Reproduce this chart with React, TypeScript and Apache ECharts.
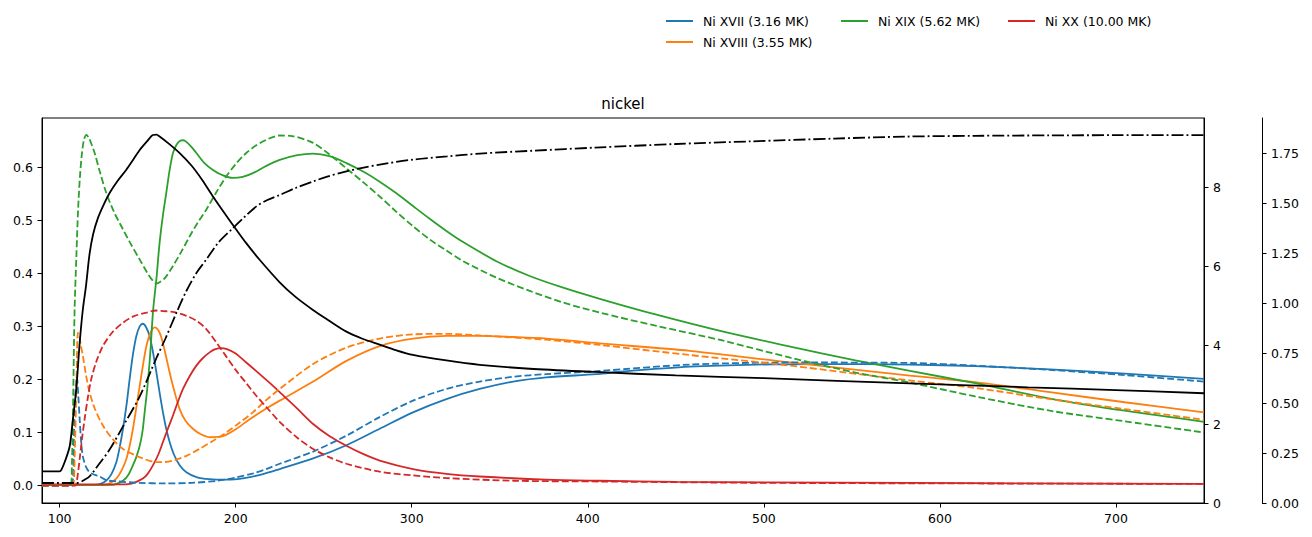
import { useEffect, useRef } from 'react';
import * as echarts from 'echarts';

type Pt = [number, number];

// Axis ticks
const timeTicks = [100, 200, 300, 400, 500, 600, 700];
const fractionTicks = [0, 0.1, 0.2, 0.3, 0.4, 0.5, 0.6];
const temperatureTicks = [0, 2, 4, 6, 8];
const densityTicks = [0, 0.25, 0.5, 0.75, 1.0, 1.25, 1.5, 1.75];

// Ion labels
const ionNames = ['Ni XVII (3.16 MK)', 'Ni XVIII (3.55 MK)', 'Ni XIX (5.62 MK)', 'Ni XX (10.00 MK)'];
const ionColors = ['#1f77b4', '#ff7f0e', '#2ca02c', '#d62728'];

// Non-equilibrium ion fractions (time, fraction)
const niXVII: Pt[] = [[90,0.001],[120,0.001],[124,0.004],[126.5,0.009],[129.5,0.022],[132.2,0.044],[134,0.07],[136,0.107],[138,0.152],[139.8,0.201],[141.7,0.248],[143.6,0.282],[145.5,0.300],[147.3,0.305],[149.2,0.298],[151.1,0.282],[153,0.252],[155,0.213],[156.8,0.175],[158.7,0.138],[160.5,0.108],[162.5,0.082],[165,0.058],[168.2,0.038],[172,0.025],[177.7,0.016],[185,0.012],[195,0.011],[205,0.014],[215,0.021],[225,0.031],[244,0.051],[262.9,0.076],[281.8,0.107],[300.7,0.138],[319.7,0.163],[338.6,0.182],[357.6,0.196],[376.5,0.204],[405,0.210],[420,0.215],[458,0.224],[496,0.228],[534,0.229],[583,0.228],[620,0.225],[662.5,0.219],[705,0.211],[750,0.201]];
const niXVIII: Pt[] = [[90,0.001],[125,0.001],[128,0.003],[132.2,0.013],[135,0.027],[137.9,0.050],[139.8,0.075],[141.6,0.106],[143.5,0.145],[145.5,0.188],[147.4,0.228],[149.3,0.263],[151.5,0.287],[154,0.298],[156,0.293],[157.8,0.279],[160,0.250],[162.5,0.213],[165,0.180],[168.2,0.144],[171.5,0.122],[175.7,0.107],[180,0.097],[185.2,0.091],[192.8,0.093],[200,0.106],[208,0.125],[217.4,0.145],[225,0.160],[244,0.196],[262.9,0.235],[281.8,0.263],[300.7,0.277],[319.7,0.282],[338.6,0.282],[357.6,0.280],[376.5,0.277],[406.8,0.268],[458,0.254],[515,0.232],[583,0.207],[620,0.195],[662.5,0.176],[705,0.157],[750,0.138]];
const niXIX: Pt[] = [[90,0.001],[130,0.001],[133,0.004],[136,0.009],[139,0.02],[141.6,0.038],[143.5,0.053],[145.5,0.075],[147,0.1],[148.3,0.138],[149.7,0.18],[151.1,0.232],[152,0.275],[153,0.326],[154,0.36],[155,0.39],[156.8,0.458],[158.7,0.51],[160.6,0.552],[162.5,0.595],[164.4,0.627],[166.5,0.643],[168.5,0.650],[170.1,0.651],[172,0.648],[175,0.638],[177.7,0.627],[182,0.609],[187.1,0.595],[192,0.586],[198.5,0.580],[204,0.582],[209.8,0.589],[217,0.602],[225,0.614],[235,0.623],[244,0.626],[253.4,0.621],[262.9,0.608],[272.4,0.592],[281.8,0.573],[291.3,0.551],[300.7,0.527],[310.2,0.503],[319.7,0.480],[329.2,0.459],[348.1,0.423],[367,0.395],[386,0.373],[406.8,0.352],[439,0.322],[477,0.290],[515,0.262],[552,0.236],[583,0.216],[620,0.193],[662.5,0.164],[705,0.141],[750,0.120]];
const niXX: Pt[] = [[90,0.002],[135,0.002],[140,0.003],[143,0.006],[147.3,0.013],[150,0.022],[153,0.038],[156,0.058],[158.7,0.082],[161.5,0.107],[164.4,0.132],[167,0.156],[170.1,0.182],[174,0.207],[177.7,0.226],[181,0.239],[185.2,0.251],[188.5,0.257],[191.8,0.259],[195,0.257],[200,0.249],[206,0.232],[213,0.212],[221.2,0.188],[225,0.176],[235,0.145],[244,0.116],[253.4,0.093],[262.9,0.075],[272,0.060],[281.8,0.047],[300.7,0.031],[319.7,0.022],[338.6,0.017],[376.5,0.011],[406.8,0.009],[450,0.007],[500,0.006],[583,0.005],[650,0.004],[750,0.003]];

// Equilibrium ion fractions (time, fraction)
const niXVIIeq: Pt[] = [[90,0],[106.5,0],[107.6,0.013],[108.5,0.14],[109.8,0.205],[110.6,0.17],[111.4,0.125],[112.3,0.08],[113.2,0.055],[115,0.035],[117,0.025],[120,0.02],[122.7,0.017],[126.5,0.01],[132,0.008],[145,0.005],[160,0.004],[175,0.005],[190,0.009],[200,0.015],[210,0.023],[217.4,0.031],[225,0.041],[244,0.064],[262.9,0.094],[281.8,0.129],[300.7,0.160],[319.7,0.182],[338.6,0.196],[357.6,0.205],[376.5,0.210],[406.8,0.216],[458,0.228],[515,0.232],[583,0.231],[620,0.226],[662.5,0.218],[705,0.208],[750,0.196]];
const niXVIIIeq: Pt[] = [[90,0],[107.5,0],[108.5,0.05],[109.5,0.18],[110.4,0.288],[111.2,0.283],[112,0.265],[113.2,0.245],[115,0.208],[117,0.176],[120,0.145],[124.6,0.113],[130,0.088],[136,0.069],[145,0.054],[153,0.045],[158,0.044],[164.4,0.047],[172,0.056],[179.5,0.069],[187,0.084],[194.7,0.100],[202,0.118],[209.8,0.138],[217,0.160],[225,0.182],[244,0.229],[262.9,0.260],[281.8,0.277],[300.7,0.285],[319.7,0.286],[338.6,0.283],[357.6,0.279],[376.5,0.275],[406.8,0.265],[458,0.246],[515,0.226],[583,0.198],[620,0.184],[662.5,0.163],[705,0.144],[750,0.124]];
const niXIXeq: Pt[] = [[90,0],[106.3,0],[107,0.04],[107.6,0.14],[108.5,0.33],[109.5,0.43],[110.5,0.52],[111.5,0.58],[112.5,0.62],[113.7,0.65],[115.2,0.661],[116.7,0.655],[118.3,0.642],[119.9,0.627],[123,0.59],[126.5,0.552],[131,0.515],[136,0.483],[140,0.458],[145.5,0.426],[150,0.400],[153,0.386],[155,0.381],[157.5,0.385],[160,0.392],[164.4,0.414],[169,0.440],[173.9,0.470],[178.5,0.496],[183.3,0.520],[189,0.553],[194.7,0.583],[200,0.606],[206,0.627],[211.5,0.641],[217.4,0.652],[222,0.658],[225,0.660],[232,0.659],[244,0.646],[253.4,0.624],[262.9,0.598],[272.4,0.572],[281.8,0.545],[291.3,0.516],[300.7,0.489],[310.2,0.464],[319.7,0.443],[329.2,0.423],[348.1,0.392],[367,0.367],[386,0.345],[406.8,0.326],[439,0.301],[477,0.273],[515,0.241],[552,0.213],[583,0.194],[620,0.168],[662.5,0.141],[705,0.121],[750,0.100]];
const niXXeq: Pt[] = [[90,0],[109,0],[109.5,0.003],[110.5,0.025],[111.4,0.05],[112.8,0.09],[114.2,0.125],[116,0.165],[118,0.201],[121,0.235],[124.6,0.263],[130,0.289],[136,0.307],[142,0.319],[149.3,0.326],[155,0.330],[158.7,0.329],[165,0.327],[172,0.320],[178,0.310],[183.3,0.295],[189,0.270],[194.7,0.243],[200,0.218],[206,0.193],[211,0.172],[217.4,0.148],[225,0.120],[235,0.090],[244,0.069],[253.4,0.053],[262.9,0.041],[281.8,0.026],[300.7,0.019],[319.7,0.014],[357.6,0.009],[406.8,0.0075],[500,0.005],[600,0.004],[750,0.003]];

// Plasma temperature in MK (time, T)
const temperature: Pt[] = [[90,0.80],[100,0.80],[101,0.84],[103,1.05],[105.7,1.43],[107.5,2.1],[109.5,2.9],[111.3,4.0],[113.2,4.9],[115,5.5],[117,6.3],[119,6.8],[121.8,7.22],[125,7.55],[128.4,7.85],[133,8.16],[137.9,8.44],[141.6,8.68],[145.5,8.94],[149.5,9.15],[153,9.32],[155,9.33],[156.8,9.28],[162,9.10],[168.2,8.86],[175,8.54],[181,8.18],[187.1,7.76],[193,7.38],[200.4,6.92],[206,6.58],[213.6,6.16],[225,5.59],[234,5.22],[243.9,4.89],[252,4.65],[262.9,4.34],[272,4.16],[281.8,4.01],[291,3.87],[300.7,3.75],[319.7,3.61],[338.6,3.50],[367,3.40],[404,3.32],[450,3.23],[500,3.16],[583,3.03],[650,2.93],[700,2.86],[750,2.78]];

// Electron density (time, n)
const density: Pt[] = [[90,0.10],[110,0.10],[113,0.11],[117,0.133],[122,0.19],[128.4,0.267],[136,0.383],[145.5,0.533],[155,0.725],[160,0.82],[166.3,0.95],[172,1.06],[177.7,1.15],[183.3,1.217],[190,1.30],[198.5,1.375],[205,1.43],[211.8,1.483],[218,1.515],[225,1.54],[234,1.575],[244,1.608],[252,1.632],[262.9,1.658],[272,1.676],[281.8,1.692],[300.7,1.717],[320,1.733],[338.6,1.747],[370,1.762],[404,1.777],[450,1.795],[492,1.808],[540,1.822],[580,1.832],[620,1.836],[662,1.838],[700,1.839],[750,1.839]];

const FONT = 'DejaVu Sans';
const LW = 1.8;
const DASHED = [6.9, 3];
const DASH_DOT = [12, 3, 1.9, 3];
// Legend handle: a thin horizontal bar inside a 27x14 box (corner specks keep the box size)
const LEGEND_HANDLE = 'path://M0,0L0.01,0L0,0.01Z M0,6.1L27,6.1L27,7.9L0,7.9Z M27,14L26.99,14L27,13.99Z';

function lineSeries(name: string, data: Pt[], color: string, dash: any, yAxisIndex: number) {
  return {
    type: 'line',
    name,
    data,
    yAxisIndex,
    symbol: 'none',
    showSymbol: false,
    smooth: 0.3,
    silent: true,
    lineStyle: { color, width: LW, type: dash },
    itemStyle: { color },
    emphasis: { disabled: true },
  };
}

function tickAxisStyle(ticks: number[], fmt: (v: number) => string) {
  return {
    axisLine: { show: true, onZero: false, lineStyle: { color: '#000', width: 1 } },
    axisTick: { show: true, length: 4.5, customValues: ticks, lineStyle: { color: '#000', width: 1 } },
    axisLabel: {
      show: true,
      customValues: ticks,
      margin: 9,
      fontSize: 12.5,
      fontFamily: FONT,
      color: '#000',
      formatter: (v: number) => fmt(v),
    },
    splitLine: { show: false },
  };
}

function legendBlock(names: string[], left: number) {
  return {
    data: names,
    orient: 'vertical',
    left,
    top: 14,
    padding: 0,
    icon: LEGEND_HANDLE,
    itemWidth: 27,
    itemHeight: 14,
    itemGap: 7,
    selectedMode: false,
    textStyle: { fontSize: 12.5, fontFamily: FONT, color: '#000', padding: [0, 0, 0, 5] },
  };
}

export default function App() {
  const ref = useRef<HTMLDivElement>(null);

  useEffect(() => {
    document.body.style.margin = '0';
    if (!ref.current) return;
    const chart = echarts.init(ref.current, null, { renderer: 'svg' });
    const option: any = {
      animation: false,
      backgroundColor: '#fff',
      textStyle: { fontFamily: FONT },
      grid: {
        left: 42,
        right: 108,
        top: 118,
        bottom: 34,
        show: true,
        borderColor: '#000',
        borderWidth: 1,
        containLabel: false,
        outerBoundsMode: 'none',
      },
      graphic: [
        {
          type: 'text',
          x: 623,
          y: 104,
          style: {
            text: 'nickel',
            fontSize: 15,
            fontFamily: FONT,
            fill: '#000',
            textAlign: 'center',
            textVerticalAlign: 'middle',
          },
        },
      ],
      legend: [
        legendBlock([ionNames[0], ionNames[1]], 666),
        legendBlock([ionNames[2]], 841),
        legendBlock([ionNames[3]], 1008),
      ],
      xAxis: {
        type: 'value',
        min: 90,
        max: 750,
        position: 'bottom',
        ...tickAxisStyle(timeTicks, (v) => String(v)),
      },
      yAxis: [
        {
          type: 'value',
          min: -0.033,
          max: 0.693,
          position: 'left',
          ...tickAxisStyle(fractionTicks, (v) => v.toFixed(1)),
        },
        {
          type: 'value',
          min: 0,
          max: 9.75,
          position: 'right',
          ...tickAxisStyle(temperatureTicks, (v) => String(v)),
        },
        {
          type: 'value',
          min: 0,
          max: 1.925,
          position: 'right',
          offset: 58,
          ...tickAxisStyle(densityTicks, (v) => v.toFixed(2)),
        },
      ],
      series: [
        lineSeries(ionNames[0], niXVII, ionColors[0], 'solid', 0),
        lineSeries(ionNames[1], niXVIII, ionColors[1], 'solid', 0),
        lineSeries(ionNames[2], niXIX, ionColors[2], 'solid', 0),
        lineSeries(ionNames[3], niXX, ionColors[3], 'solid', 0),
        lineSeries('Ni XVII eq', niXVIIeq, ionColors[0], DASHED, 0),
        lineSeries('Ni XVIII eq', niXVIIIeq, ionColors[1], DASHED, 0),
        lineSeries('Ni XIX eq', niXIXeq, ionColors[2], DASHED, 0),
        lineSeries('Ni XX eq', niXXeq, ionColors[3], DASHED, 0),
        lineSeries('T', temperature, '#000', 'solid', 1),
        lineSeries('n', density, '#000', DASH_DOT, 2),
      ],
    };
    chart.setOption(option);
    return () => chart.dispose();
  }, []);

  return <div ref={ref} style={{ width: 1312, height: 537 }} />;
}
